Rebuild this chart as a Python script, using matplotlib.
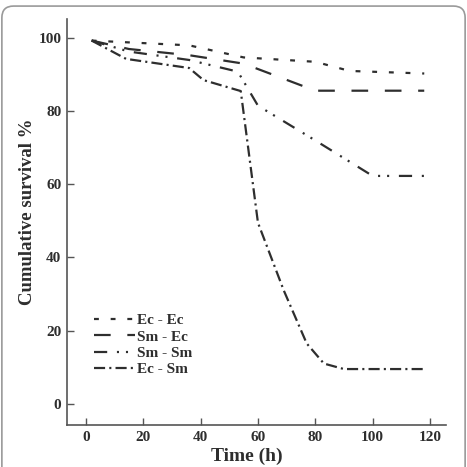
import matplotlib
matplotlib.use('Agg')
import matplotlib.pyplot as plt
from matplotlib.patches import FancyBboxPatch

# data #
ec_ec_t = [2, 36, 55, 80, 92, 118]
ec_ec_s = [99.3, 98.0, 94.7, 93.5, 91.0, 90.3]

sm_ec_t = [2, 15, 36, 55, 80, 118]
sm_ec_s = [99.3, 97.0, 95.3, 93.0, 85.6, 85.6]

sm_sm_t = [2, 15, 36, 53, 60, 80, 100, 118]
sm_sm_s = [99.3, 96.3, 94.0, 90.8, 81.5, 72.0, 62.3, 62.3]

ec_sm_t = [2, 14, 36, 41, 54, 60, 69, 77, 83, 90, 118]
ec_sm_s = [99.3, 94.3, 91.8, 88.5, 85.5, 49.5, 31.0, 16.5, 11.0, 9.5, 9.5]

labels = ['Ec - Ec', 'Sm - Ec', 'Sm - Sm', 'Ec - Sm']
xticks = [0, 20, 40, 60, 80, 100, 120]
yticks = [0, 20, 40, 60, 80, 100]

plt.rcParams['font.family'] = 'Liberation Serif'
plt.rcParams['font.weight'] = 'bold'
plt.rcParams['lines.scale_dashes'] = False

ink = '#2e2e2e'
fig = plt.figure(figsize=(4.67, 4.67), dpi=100)

# outer rounded frame #
frame = FancyBboxPatch((0.004, -0.05), 0.992, 1.037, transform=fig.transFigure,
                       boxstyle='round,pad=0,rounding_size=0.025',
                       fc='none', ec='#9a9a9a', lw=1.2)
fig.patches.append(frame)

ax = fig.add_axes([0.1435, 0.0899, 0.8116, 0.8694])

lw = 1.6
ax.plot(ec_ec_t, ec_ec_s, color=ink, lw=lw, dashes=(3.5, 8.5), label=labels[0])
ax.plot(sm_ec_t, sm_ec_s, color=ink, lw=lw, dashes=(12, 12), label=labels[1])
ax.plot(sm_sm_t, sm_sm_s, color=ink, lw=lw, dashes=(9.5, 7, 1.5, 5, 1.5, 7), label=labels[2])
ax.plot(ec_sm_t, ec_sm_s, color=ink, lw=lw, dashes=(8, 3, 1.5, 3), label=labels[3])

ax.set_xlim(-6.6, 125.6)
ax.set_ylim(-5.8, 105.2)
ax.set_xticks(xticks)
ax.set_yticks(yticks)

for s in ['top', 'right']:
    ax.spines[s].set_visible(False)
for s in ['left', 'bottom']:
    ax.spines[s].set_color('#555555')
    ax.spines[s].set_linewidth(1.2)

ax.tick_params(direction='in', length=5, width=1, color='#555555',
               labelsize=11, labelcolor=ink, pad=4)

ax.set_xlabel('Time (h)', fontsize=14, fontweight='bold', color=ink)
ax.xaxis.set_label_coords(0.475, -0.057)
ax.set_ylabel('Cumulative survival %', fontsize=13.5, fontweight='bold', color=ink)
ax.yaxis.set_label_coords(-0.082, 0.525)

leg = ax.legend(loc='upper left', bbox_to_anchor=(0.071, 0.275), frameon=False,
                fontsize=11, handlelength=2.7, handletextpad=0.15,
                labelspacing=0.18, borderpad=0, borderaxespad=0)
for t in leg.get_texts():
    t.set_color(ink)

plt.savefig('out.png', dpi=100)
